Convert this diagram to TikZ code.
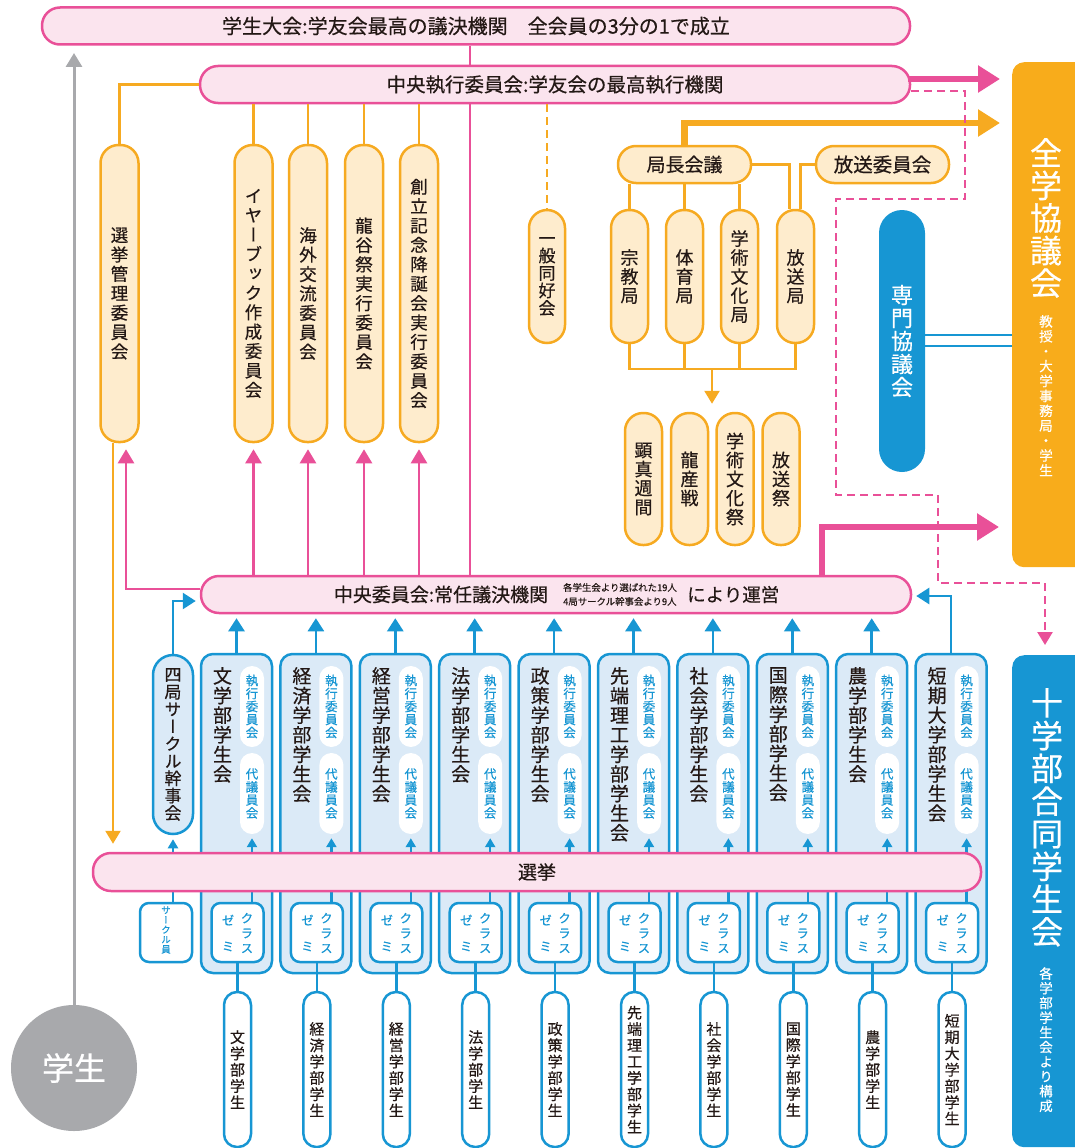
\documentclass[tikz,border=0pt]{standalone}
\usepackage{fontspec}
\usepackage{xcolor}
\usepackage{tikz}
\usetikzlibrary{arrows.meta, positioning, calc}

\setmainfont{Noto Sans CJK JP}[FakeBold=0.5]
\newfontfamily\tatefont[RawFeature=+vert, FakeBold=0.5]{Noto Sans CJK JP}

\definecolor{pinkline}{RGB}{233,80,152}
\definecolor{pinkfill}{RGB}{251,228,238}
\definecolor{orgline}{RGB}{246,170,33}
\definecolor{orgfill}{RGB}{254,236,205}
\definecolor{orgbox}{RGB}{248,172,27}
\definecolor{blueline}{RGB}{23,150,211}
\definecolor{bluefill}{RGB}{219,234,247}
\definecolor{graycirc}{RGB}{168,169,172}
\definecolor{ink}{RGB}{35,24,21}

% one character per line
\makeatletter
\def\tate#1{\expandafter\tate@a#1\@nil}
\def\tate@a#1#2\@nil{#1\ifx\relax#2\relax\else\\\tate@a#2\@nil\fi}
\makeatother

\begin{document}
\begin{tikzpicture}[x=1pt, y=-1pt,
    pinkbar/.style={draw=pinkline, fill=pinkfill, line width=2.5pt, rounded corners=18pt,
        minimum height=37pt, inner sep=0pt, text=ink},
    orgpill/.style={draw=orgline, fill=orgfill, line width=2.5pt, rounded corners=18pt,
        minimum width=37pt, minimum height=37pt, inner sep=0pt, align=center, text=ink},
    iinkai/.style={orgpill, minimum width=38pt, minimum height=297pt,
        font=\tatefont\fontsize{17.5}{19.4}\selectfont},
    kyoku/.style={orgpill, minimum height=133pt, font=\tatefont\fontsize{18}{19}\selectfont},
    gyoji/.style={orgpill, minimum height=132pt, font=\tatefont\fontsize{18}{19}\selectfont},
    facbox/.style={draw=blueline, fill=bluefill, line width=2.5pt, rounded corners=12pt,
        minimum width=71pt, minimum height=319pt, inner sep=0pt},
    factext/.style={anchor=north, inner sep=0pt, align=center, text=ink,
        font=\tatefont\fontsize{19}{19.6}\selectfont},
    innerpill/.style={fill=white, rounded corners=12pt, minimum width=24pt, minimum height=81pt,
        inner sep=0pt, align=center, text=blueline, font=\tatefont\fontsize{12.5}{13}\selectfont},
    zemibox/.style={draw=blueline, fill=white, line width=2.5pt, rounded corners=9pt,
        minimum width=52pt, minimum height=59pt, inner sep=0pt},
    zemitext/.style={inner sep=0pt, align=center, text=blueline},
    stupill/.style={draw=blueline, fill=white, line width=2.5pt, rounded corners=13pt,
        minimum width=27pt, minimum height=155pt, inner sep=0pt, align=center, text=ink,
        font=\tatefont\fontsize{15}{16.3}\selectfont},
    notetext/.style={inner sep=0pt, text=ink, font=\fontsize{9.4}{10}\selectfont},
    pinkconn/.style={draw=pinkline, line width=2.5pt},
    pinkarrow/.style={pinkconn, -{Triangle[length=14pt, width=16pt]}},
    pinkthick/.style={draw=pinkline, line width=6.5pt, -{Triangle[length=22pt, width=26pt]}},
    pinkdash/.style={draw=pinkline, line width=2.5pt, dash pattern=on 8pt off 5pt},
    orgconn/.style={draw=orgline, line width=2.5pt},
    orgarrow/.style={orgconn, -{Triangle[length=13pt, width=15pt]}},
    orgthick/.style={draw=orgline, line width=6.5pt, -{Triangle[length=22pt, width=26pt]}},
    orgdash/.style={orgconn, dash pattern=on 8pt off 5pt},
    blueconn/.style={draw=blueline, line width=2.5pt},
    bluearrow/.style={blueconn, -{Triangle[length=13pt, width=16pt]}},
    bluesmall/.style={blueconn, -{Triangle[length=9pt, width=10pt]}}
  ]
  \useasboundingbox (0,0) rectangle (1074,1148);

  % top bars
  \node[pinkbar, minimum width=868pt, font=\fontsize{20}{22}\selectfont] (taikai) at (476,26)
      {学生大会:学友会最高の議決機関　全会員の3分の1で成立};
  \node[pinkbar, minimum width=710pt, font=\fontsize{19.5}{22}\selectfont] (chuoshikko) at (555,84.5)
      {中央執行委員会:学友会の最高執行機関};
  \node[pinkbar, minimum width=710pt] (chuoiin) at (556,594.5) {};
  \node[inner sep=0pt, text=ink, font=\fontsize{19}{22}\selectfont] (chuoiintxt) at (441,594.5)
      {中央委員会:常任議決機関};
  \node[notetext, anchor=west] (chuoiinnote) at (563,587.5) {各学生会より選ばれた19人};
  \node[notetext, anchor=west] (chuoiinnote2) at (563,601.5) {4局サークル幹事会より9人};
  \node[inner sep=0pt, text=ink, font=\fontsize{18.5}{22}\selectfont, anchor=west] (chuoiinunei) at (687,594.5)
      {により運営};

  % committees
  \node[iinkai] (senkan) at (119.5,293.5) {\tate{選挙管理委員会}};
  \node[iinkai] (yearbook) at (253.5,293.5) {\tate{イヤーブック作成委員会}};
  \node[iinkai] (kaigai) at (308,293.5) {\tate{海外交流委員会}};
  \node[iinkai] (ryukoku) at (364,293.5) {\tate{龍谷祭実行委員会}};
  \node[iinkai] (soritsu) at (419,293.5) {\tate{創立記念降誕会実行委員会}};
  \node[orgpill, minimum width=36pt, minimum height=133pt, font=\tatefont\fontsize{17}{17.5}\selectfont]
      (ippan) at (547,276.5) {\tate{一般同好会}};

  % bureaus
  \node[orgpill, minimum width=133pt, font=\fontsize{19}{22}\selectfont] (kyokucho) at (684.5,164.5) {局長会議};
  \node[orgpill, minimum width=133pt, font=\fontsize{19.5}{22}\selectfont] (hosoiin) at (882.5,164.5) {放送委員会};
  \node[kyoku] (shukyo) at (629.5,276.5) {\tate{宗教局}};
  \node[kyoku] (taiiku) at (684.5,276.5) {\tate{体育局}};
  \node[kyoku] (gakujutsu) at (739.5,276.5) {\tate{学術文化局}};
  \node[kyoku] (hosokyoku) at (795.5,276.5) {\tate{放送局}};
  \node[gyoji] (kenshin) at (643.5,479) {\tate{顕真週間}};
  \node[gyoji] (ryusan) at (689.5,479) {\tate{龍産戦}};
  \node[gyoji] (gakusai) at (735,479) {\tate{学術文化祭}};
  \node[gyoji] (hososai) at (781,479) {\tate{放送祭}};

  % right side
  \node[fill=orgbox, rounded corners=12pt, minimum width=88pt, minimum height=505pt, inner sep=0pt,
      anchor=north west] (zengaku) at (1012,62) {};
  \node[anchor=north, inner sep=0pt, align=center, text=white, font=\tatefont\fontsize{32}{32.5}\selectfont]
      (zengakutxt) at (1046,138) {\tate{全学協議会}};
  \node[anchor=north, inner sep=0pt, align=center, text=white, font=\tatefont\fontsize{13.5}{14.9}\selectfont]
      (zengakusub) at (1046,315) {\tate{教授・大学事務局・学生}};
  \node[fill=blueline, rounded corners=12pt, minimum width=88pt, minimum height=492pt, inner sep=0pt,
      anchor=north west] (juugaku) at (1012,655) {};
  \node[anchor=north, inner sep=0pt, align=center, text=white, font=\tatefont\fontsize{32}{32.7}\selectfont]
      (juugakutxt) at (1047,688) {\tate{十学部合同学生会}};
  \node[anchor=north, inner sep=0pt, align=center, text=white, font=\tatefont\fontsize{13.5}{14.7}\selectfont]
      (juugakusub) at (1046,967) {\tate{各学部学生会より構成}};
  \node[fill=blueline, rounded corners=23pt, minimum width=46pt, minimum height=262pt, inner sep=0pt,
      align=center, text=white, font=\tatefont\fontsize{22}{23}\selectfont] (senmon) at (902,341) {\tate{専門協議会}};

  % student body
  \node[circle, fill=graycirc, minimum size=126pt, inner sep=0pt, text=white, font=\fontsize{32}{34}\selectfont]
      (gakusei) at (74,1068) {学生};
  \coordinate (graytip) at (74,53);
  \draw[draw=graycirc, line width=3pt, -{Triangle[length=14pt, width=16pt]}] (gakusei.north) -- (graytip);

  % faculty councils
  \node[draw=blueline, fill=bluefill, line width=2.5pt, rounded corners=20pt, minimum width=40pt,
      minimum height=179pt, inner sep=0pt, align=center, text=ink, font=\tatefont\fontsize{17}{17.3}\selectfont]
      (shikyoku) at (173,744.5) {\tate{四局サークル幹事会}};
  \node[zemibox] (circlemem) at (166,932.5) {};
  \node[zemitext, font=\tatefont\fontsize{9.5}{9.8}\selectfont] (circlememtxt) at (166,930) {\tate{サークル員}};
  \draw[bluesmall, shorten >=4pt] ([xshift=7pt]circlemem.north) -- (shikyoku.south);
  \draw[bluearrow] (shikyoku.north) |- ([shift={(-4pt,-6.5pt)}]chuoiin.west);

  \foreach \i/\fac/\stu in {0/文学部学生会/文学部学生, 1/経済学部学生会/経済学部学生,
      2/経営学部学生会/経営学部学生, 3/法学部学生会/法学部学生, 4/政策学部学生会/政策学部学生,
      5/先端理工学部学生会/先端理工学部学生, 6/社会学部学生会/社会学部学生,
      7/国際学部学生会/国際学部学生, 8/農学部学生会/農学部学生, 9/短期大学部学生会/短期大学部学生}{
    \pgfmathsetmacro{\cx}{236.5+79.4*\i}
    \node[facbox] (fac\i) at (\cx,813.5) {};
    \node[factext] (facname\i) at (\cx-14,667) {\tate{\fac}};
    \node[innerpill] (shikko\i) at (\cx+15.5,706.5) {\tate{執行委員会}};
    \node[innerpill] (daigi\i) at (\cx+15.5,793.5) {\tate{代議員会}};
    \node[zemibox] (zemi\i) at (\cx+1,932.5) {};
    \node[zemitext, font=\tatefont\fontsize{12.5}{26}\selectfont] (zemitxt\i) at (\cx-8.5,933) {ゼ\\ミ};
    \node[zemitext, font=\tatefont\fontsize{12.5}{15}\selectfont] (classtxt\i) at (\cx+10.5,933) {ク\\ラ\\ス};
    \node[stupill] (stu\i) at (\cx+1,1069.5) {\tate{\stu}};
    \draw[bluesmall, shorten >=4pt] (zemi\i.north -| daigi\i) -- (daigi\i.south);
    \draw[blueconn] (zemi\i.south) -- (stu\i.north);
    \ifnum\i<9
      \draw[bluearrow, shorten >=4pt] (fac\i.north) -- (fac\i.north |- chuoiin.south);
    \fi
  }
  \draw[bluearrow] (fac9.north) |- ([shift={(4pt,-1.5pt)}]chuoiin.east);

  % election bar
  \node[pinkbar, minimum width=888pt, minimum height=38pt, font=\fontsize{19}{22}\selectfont] (senkyo) at (537,872) {選挙};

  % connectors
  \coordinate (trunk) at (470,0);
  \draw[pinkconn] (taikai.south -| trunk) -- (chuoshikko.north -| trunk);
  \draw[pinkconn] (chuoshikko.south -| trunk) -- (chuoiin.north -| trunk);
  \draw[orgconn] (chuoshikko.west) -| (senkan.north);
  \foreach \n in {yearbook, kaigai, ryukoku, soritsu}{
    \draw[orgconn] (\n.north) -- (\n.north |- chuoshikko.south);
    \draw[pinkarrow, shorten >=6pt] (\n.south |- chuoiin.north) -- (\n.south);
  }
  \draw[pinkarrow, shorten >=6pt] ([yshift=5.5pt]chuoiin.west) -| ([xshift=6.5pt]senkan.south);
  \draw[orgarrow, shorten >=8pt] ([xshift=-6.5pt]senkan.south) -- ([xshift=-6.5pt]senkan.south |- senkyo.north);
  \draw[orgdash] (chuoshikko.south -| ippan) -- (ippan.north);

  \draw[orgconn] (shukyo.north) -- (shukyo.north |- kyokucho.south);
  \draw[orgconn] (taiiku.north) -- (taiiku.north |- kyokucho.south);
  \draw[orgconn] (gakujutsu.north) -- (gakujutsu.north |- kyokucho.south);
  \draw[orgconn] (kyokucho.east) -| ([xshift=-6pt]hosokyoku.north);
  \draw[orgconn] (hosoiin.west) -| ([xshift=5pt]hosokyoku.north);
  \coordinate (kmerge) at (712,369);
  \draw[orgconn] (shukyo.south) |- (hosokyoku.south |- kmerge) -- (hosokyoku.south);
  \draw[orgconn] (taiiku.south) -- (taiiku.south |- kmerge);
  \draw[orgconn] (gakujutsu.south) -- (gakujutsu.south |- kmerge);
  \draw[orgarrow, shorten >=8pt] (kmerge) -- (kmerge |- ryusan.north);

  \coordinate (orgtip) at (1000,123);
  \draw[orgthick] (kyokucho.north) |- (orgtip);
  \coordinate (pinktip) at (1000,79);
  \draw[pinkthick] ([xshift=-3pt]chuoshikko.east |- pinktip) -- (pinktip);
  \coordinate (pinkturn) at (822,527);
  \draw[pinkthick] (pinkturn |- chuoiin.north) |- ([xshift=-13pt]zengaku.south west |- pinkturn);
  \draw[pinkdash, -{Triangle[length=13pt, width=15pt]}] ([yshift=-6.5pt]chuoshikko.east)
      -| (965,199) -| (836,495) -| (938,583) -| ([shift={(33pt,10pt)}]juugaku.north west);

  \draw[blueconn, line width=2pt] ([yshift=6pt]senmon.east) -- ([yshift=6pt]senmon.east -| zengaku.west);
  \draw[blueconn, line width=2pt] ([yshift=-5pt]senmon.east) -- ([yshift=-5pt]senmon.east -| zengaku.west);
\end{tikzpicture}
\end{document}
